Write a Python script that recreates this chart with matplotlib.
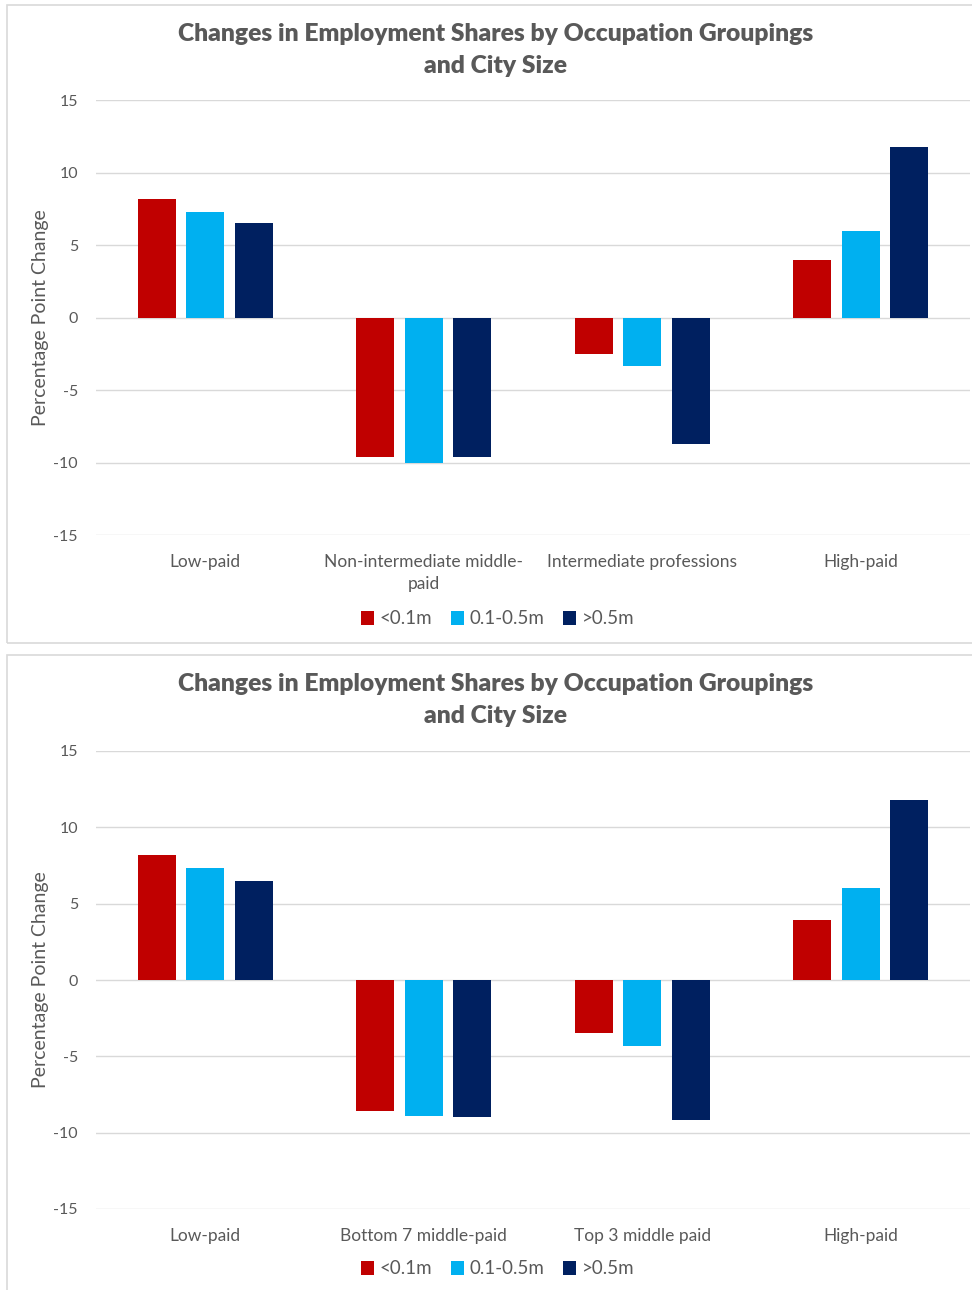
import matplotlib
matplotlib.use("Agg")
import matplotlib.pyplot as plt
import numpy as np
from matplotlib.patches import Rectangle

plt.rcParams['font.family'] = ['Lato', 'DejaVu Sans']

# data
title = "Changes in Employment Shares by Occupation Groupings\nand City Size"
series = ["<0.1m", "0.1-0.5m", ">0.5m"]
colors = ["#c00000", "#00b0f0", "#002060"]

cats_top = ["Low-paid", "Non-intermediate middle-\npaid", "Intermediate professions", "High-paid"]
top_small = [8.15, -9.65, -2.5, 3.95]
top_mid = [7.3, -10.0, -3.35, 6.0]
top_large = [6.5, -9.6, -8.7, 11.75]

cats_bot = ["Low-paid", "Bottom 7 middle-paid", "Top 3 middle paid", "High-paid"]
bot_small = [8.2, -8.6, -3.45, 3.95]
bot_mid = [7.35, -8.9, -4.35, 6.0]
bot_large = [6.5, -8.95, -9.2, 11.8]

yticks = [-15, -10, -5, 0, 5, 10, 15]

grey = "#595959"
gridc = "#d9d9d9"

fig = plt.figure(figsize=(9.72, 12.9), dpi=100)


def panel(rect, cats, vals, title_y, legend_y):
    ax = fig.add_axes(rect)
    x = np.arange(len(cats))
    width = 0.174
    step = 0.222
    for i, (v, c, name) in enumerate(zip(vals, colors, series)):
        ax.bar(x + (i - 1) * step, v, width, color=c, label=name, zorder=3)
    ax.set_xlim(-0.5, len(cats) - 0.5)
    ax.set_ylim(-15, 15)
    ax.set_yticks(yticks)
    ax.set_yticklabels([str(t) for t in yticks], fontsize=11.5, color=grey)
    ax.set_xticks(x)
    ax.set_xticklabels(cats, fontsize=12.5, color=grey, linespacing=1.4)
    ax.tick_params(axis='both', length=0)
    ax.tick_params(axis='y', pad=13)
    ax.tick_params(axis='x', pad=14)
    ax.grid(axis='y', color=gridc, linewidth=1, zorder=0)
    for s in ax.spines.values():
        s.set_visible(False)
    ax.set_ylabel("Percentage Point Change", fontsize=14, color=grey, labelpad=3)
    fig.text(0.51, title_y, title, ha='center', va='top', fontsize=17.7,
             fontweight='heavy', color=grey, linespacing=1.55)
    handles, labels = ax.get_legend_handles_labels()
    fig.legend(handles, labels, loc='center', bbox_to_anchor=(0.512, legend_y), ncol=3,
               frameon=False, fontsize=13.5, labelcolor=grey, handlelength=0.7,
               handleheight=0.7, handletextpad=0.3, columnspacing=1.0)
    return ax


panel([96 / 972, 1 - 535 / 1290, 874 / 972, 435 / 1290], cats_top,
      [top_small, top_mid, top_large], 1 - 23 / 1290, 1 - 619 / 1290)
panel([96 / 972, 1 - 1209 / 1290, 874 / 972, 458 / 1290], cats_bot,
      [bot_small, bot_mid, bot_large], 1 - 673 / 1290, 1 - 1269 / 1290)

# chart frames
fig.patches.append(Rectangle((7 / 972, 1 - 643 / 1290), 1.1, 638 / 1290, transform=fig.transFigure,
                             fill=False, edgecolor=gridc, linewidth=1.2))
fig.patches.append(Rectangle((7 / 972, -0.1), 1.1, 0.1 + 635 / 1290, transform=fig.transFigure,
                             fill=False, edgecolor=gridc, linewidth=1.2))

fig.savefig("out.png", dpi=100)
